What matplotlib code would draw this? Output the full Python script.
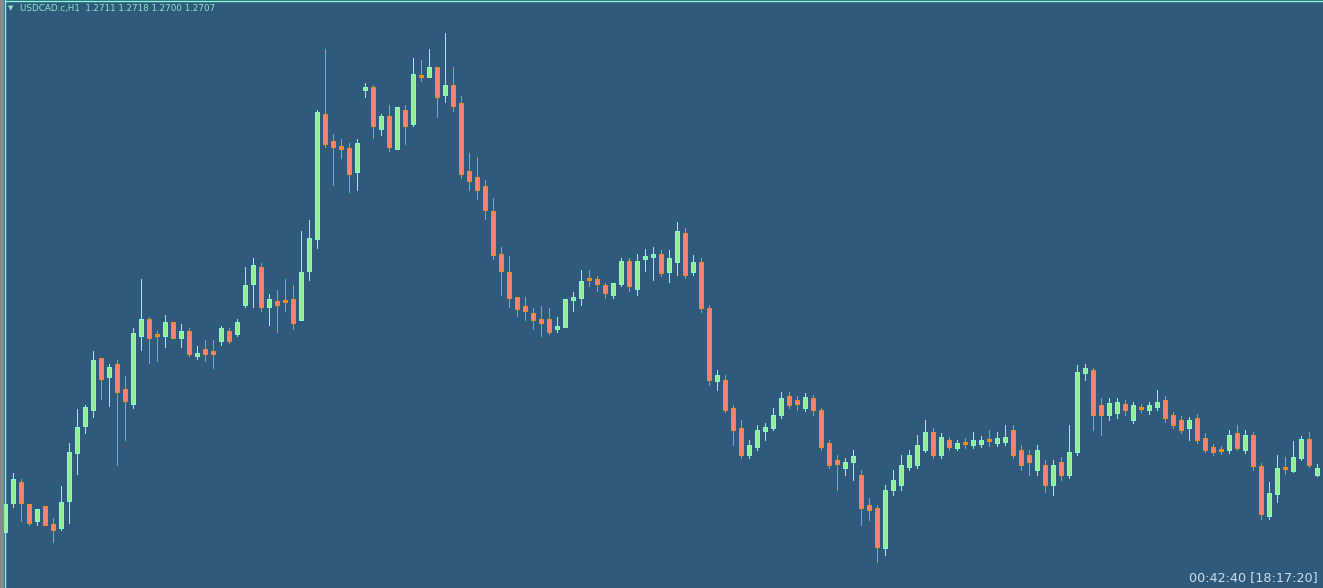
import matplotlib
matplotlib.use("Agg")
import matplotlib.pyplot as plt
from matplotlib.patches import Rectangle
from matplotlib.lines import Line2D

# USDCAD.c H1 - 165 candles (oldest first)
opens = [1.2648, 1.2677, 1.2698, 1.2676, 1.2659, 1.2674, 1.2656, 1.2652, 1.2679, 1.2727,
         1.2754, 1.2770, 1.2822, 1.2803, 1.2816, 1.2791, 1.2776, 1.2844, 1.2861, 1.2845,
         1.2844, 1.2858, 1.2842, 1.2849, 1.2824, 1.2831, 1.2829, 1.2839, 1.2849, 1.2846,
         1.2875, 1.2896, 1.2913, 1.2873, 1.2879, 1.2879, 1.2881, 1.2860, 1.2909, 1.2941,
         1.3066, 1.3039, 1.3034, 1.3032, 1.3008, 1.3090, 1.3093, 1.3051, 1.3064, 1.3031,
         1.3070, 1.3056, 1.3104, 1.3103, 1.3113, 1.3085, 1.3095, 1.3077, 1.3009, 1.3003,
         1.2994, 1.2969, 1.2926, 1.2908, 1.2883, 1.2874, 1.2867, 1.2861, 1.2861, 1.2851,
         1.2853, 1.2880, 1.2882, 1.2901, 1.2901, 1.2895, 1.2885, 1.2896, 1.2919, 1.2891,
         1.2921, 1.2923, 1.2926, 1.2908, 1.2918, 1.2947, 1.2908, 1.2918, 1.2872, 1.2799,
         1.2800, 1.2772, 1.2752, 1.2725, 1.2733, 1.2749, 1.2752, 1.2765, 1.2784, 1.2780,
         1.2772, 1.2782, 1.2770, 1.2737, 1.2720, 1.2712, 1.2718, 1.2705, 1.2675, 1.2672,
         1.2632, 1.2690, 1.2695, 1.2713, 1.2715, 1.2730, 1.2748, 1.2725, 1.2740, 1.2732,
         1.2737, 1.2735, 1.2736, 1.2740, 1.2737, 1.2738, 1.2750, 1.2730, 1.2725, 1.2710,
         1.2715, 1.2695, 1.2718, 1.2705, 1.2728, 1.2807, 1.2810, 1.2775, 1.2765, 1.2767,
         1.2776, 1.2760, 1.2772, 1.2770, 1.2773, 1.2780, 1.2765, 1.2760, 1.2752, 1.2762,
         1.2742, 1.2733, 1.2730, 1.2730, 1.2747, 1.2730, 1.2745, 1.2714, 1.2664, 1.2686,
         1.2712, 1.2709, 1.2722, 1.2741, 1.2705]
highs = [1.2683, 1.2707, 1.2701, 1.2676, 1.2671, 1.2674, 1.2662, 1.2694, 1.2737, 1.2771,
         1.2775, 1.2829, 1.2822, 1.2816, 1.2820, 1.2804, 1.2852, 1.2901, 1.2863, 1.2849,
         1.2865, 1.2858, 1.2856, 1.2852, 1.2834, 1.2840, 1.2840, 1.2854, 1.2852, 1.2861,
         1.2913, 1.2922, 1.2917, 1.2886, 1.2890, 1.2901, 1.2895, 1.2949, 1.2960, 1.3070,
         1.3131, 1.3046, 1.3041, 1.3037, 1.3041, 1.3097, 1.3095, 1.3066, 1.3075, 1.3073,
         1.3075, 1.3122, 1.3120, 1.3131, 1.3113, 1.3147, 1.3113, 1.3084, 1.3027, 1.3023,
         1.3000, 1.2982, 1.2933, 1.2924, 1.2883, 1.2883, 1.2872, 1.2874, 1.2872, 1.2863,
         1.2881, 1.2888, 1.2910, 1.2910, 1.2904, 1.2897, 1.2897, 1.2922, 1.2922, 1.2926,
         1.2931, 1.2933, 1.2930, 1.2930, 1.2958, 1.2952, 1.2925, 1.2922, 1.2875, 1.2810,
         1.2805, 1.2775, 1.2760, 1.2740, 1.2755, 1.2757, 1.2772, 1.2788, 1.2788, 1.2784,
         1.2787, 1.2785, 1.2772, 1.2740, 1.2725, 1.2722, 1.2730, 1.2710, 1.2682, 1.2675,
         1.2695, 1.2710, 1.2725, 1.2730, 1.2745, 1.2760, 1.2752, 1.2747, 1.2743, 1.2740,
         1.2742, 1.2748, 1.2744, 1.2750, 1.2748, 1.2755, 1.2755, 1.2735, 1.2730, 1.2735,
         1.2720, 1.2720, 1.2723, 1.2755, 1.2815, 1.2816, 1.2812, 1.2782, 1.2782, 1.2782,
         1.2780, 1.2778, 1.2776, 1.2778, 1.2790, 1.2784, 1.2768, 1.2764, 1.2763, 1.2766,
         1.2747, 1.2736, 1.2734, 1.2750, 1.2755, 1.2750, 1.2748, 1.2717, 1.2698, 1.2725,
         1.2723, 1.2739, 1.2744, 1.2748, 1.2716]
lows = [1.2646, 1.2673, 1.2659, 1.2655, 1.2655, 1.2655, 1.2638, 1.2650, 1.2657, 1.2706,
        1.2747, 1.2763, 1.2781, 1.2774, 1.2715, 1.2740, 1.2772, 1.2830, 1.2817, 1.2819,
        1.2833, 1.2842, 1.2833, 1.2824, 1.2821, 1.2819, 1.2812, 1.2835, 1.2837, 1.2844,
        1.2873, 1.2873, 1.2869, 1.2855, 1.2848, 1.2869, 1.2851, 1.2860, 1.2900, 1.2932,
        1.3033, 1.2995, 1.3022, 1.2988, 1.2990, 1.3083, 1.3042, 1.3045, 1.3029, 1.3031,
        1.3036, 1.3054, 1.3099, 1.3103, 1.3063, 1.3078, 1.3069, 1.3002, 1.2990, 1.2981,
        1.2961, 1.2921, 1.2885, 1.2873, 1.2864, 1.2860, 1.2851, 1.2844, 1.2846, 1.2848,
        1.2853, 1.2869, 1.2875, 1.2894, 1.2889, 1.2882, 1.2882, 1.2894, 1.2889, 1.2885,
        1.2909, 1.2900, 1.2904, 1.2898, 1.2905, 1.2902, 1.2905, 1.2868, 1.2795, 1.2790,
        1.2768, 1.2735, 1.2722, 1.2722, 1.2730, 1.2740, 1.2750, 1.2762, 1.2772, 1.2770,
        1.2769, 1.2765, 1.2730, 1.2712, 1.2690, 1.2705, 1.2700, 1.2655, 1.2660, 1.2618,
        1.2625, 1.2685, 1.2690, 1.2710, 1.2712, 1.2728, 1.2722, 1.2722, 1.2730, 1.2730,
        1.2732, 1.2732, 1.2733, 1.2734, 1.2734, 1.2735, 1.2722, 1.2710, 1.2705, 1.2705,
        1.2688, 1.2685, 1.2700, 1.2702, 1.2725, 1.2800, 1.2750, 1.2745, 1.2760, 1.2762,
        1.2765, 1.2757, 1.2768, 1.2766, 1.2770, 1.2758, 1.2752, 1.2747, 1.2740, 1.2737,
        1.2728, 1.2725, 1.2726, 1.2727, 1.2730, 1.2727, 1.2710, 1.2661, 1.2661, 1.2678,
        1.2706, 1.2708, 1.2720, 1.2713, 1.2704]
closes = [1.2676, 1.2701, 1.2677, 1.2657, 1.2671, 1.2655, 1.2650, 1.2678, 1.2728, 1.2753,
          1.2773, 1.2820, 1.2801, 1.2813, 1.2788, 1.2779, 1.2847, 1.2861, 1.2842, 1.2845,
          1.2858, 1.2842, 1.2849, 1.2826, 1.2827, 1.2826, 1.2826, 1.2852, 1.2839, 1.2858,
          1.2895, 1.2915, 1.2873, 1.2881, 1.2875, 1.2879, 1.2857, 1.2908, 1.2942, 1.3068,
          1.3036, 1.3033, 1.3031, 1.3006, 1.3037, 1.3093, 1.3054, 1.3064, 1.3033, 1.3073,
          1.3054, 1.3106, 1.3104, 1.3113, 1.3083, 1.3095, 1.3074, 1.3006, 1.2999, 1.2990,
          1.2970, 1.2925, 1.2909, 1.2882, 1.2871, 1.2869, 1.2860, 1.2857, 1.2848, 1.2854,
          1.2881, 1.2883, 1.2899, 1.2901, 1.2896, 1.2887, 1.2897, 1.2919, 1.2894, 1.2919,
          1.2924, 1.2926, 1.2907, 1.2922, 1.2949, 1.2905, 1.2918, 1.2872, 1.2800, 1.2805,
          1.2770, 1.2750, 1.2725, 1.2735, 1.2750, 1.2753, 1.2765, 1.2782, 1.2775, 1.2776,
          1.2783, 1.2770, 1.2733, 1.2715, 1.2716, 1.2718, 1.2724, 1.2672, 1.2670, 1.2633,
          1.2690, 1.2700, 1.2715, 1.2725, 1.2735, 1.2748, 1.2725, 1.2743, 1.2733, 1.2737,
          1.2737, 1.2740, 1.2740, 1.2740, 1.2742, 1.2743, 1.2725, 1.2715, 1.2718, 1.2730,
          1.2695, 1.2715, 1.2705, 1.2728, 1.2808, 1.2812, 1.2765, 1.2765, 1.2777, 1.2778,
          1.2770, 1.2775, 1.2772, 1.2775, 1.2778, 1.2762, 1.2755, 1.2750, 1.2760, 1.2740,
          1.2730, 1.2728, 1.2730, 1.2745, 1.2732, 1.2745, 1.2714, 1.2666, 1.2687, 1.2712,
          1.2712, 1.2723, 1.2741, 1.2715, 1.2712]

header = "USDCAD.c,H1  1.2711 1.2718 1.2700 1.2707"
timer = "00:42:40 [18:17:20]"

bg = "#2F5A7B"
bull_body = "#90EE90"
bull_line = "#7FFFD4"
bear_body = "#FA8072"
bear_line = "#FF8C00"

fig = plt.figure(figsize=(13.23, 5.88), dpi=100, facecolor=bg)
ax = fig.add_axes([0, 0, 1, 1], facecolor=bg)
n = len(opens)
w = 0.55
px = 0.72  # one pixel at 100 dpi

for i in range(n):
    o, h, l, c = opens[i], highs[i], lows[i], closes[i]
    if c > o:
        ax.vlines(i, l, h, color=bull_line, lw=px, zorder=2, antialiased=False)
        ax.add_patch(Rectangle((i - w / 2, o), w, c - o, facecolor=bull_body,
                               edgecolor=bull_line, lw=px, zorder=3))
    elif c < o:
        ax.vlines(i, l, h, color=bear_line, lw=px, zorder=2, antialiased=False)
        ax.add_patch(Rectangle((i - w / 2, c), w, o - c, facecolor=bear_body,
                               edgecolor=bear_line, lw=px, zorder=3))
    else:
        ax.vlines(i, l, h, color=bear_line, lw=px, zorder=2, antialiased=False)
        ax.hlines(o, i - w / 2, i + w / 2, color=bear_line, lw=1.0, zorder=3,
                  antialiased=False)

ax.set_xlim(-0.625, 164.75)
ax.set_ylim(1.2592, 1.3180)
ax.set_xticks([])
ax.set_yticks([])
for s in ax.spines.values():
    s.set_visible(False)

# window frame: grey strip and light borders
fig.patches.append(Rectangle((0, 0), 3.5 / 1323, 1, transform=fig.transFigure,
                             facecolor="#8A8A8A", edgecolor="none", zorder=5))
fig.lines.append(Line2D([4.5 / 1323, 4.5 / 1323], [0, 1], transform=fig.transFigure,
                        color="#7FFFD4", lw=1.0, zorder=6))
fig.lines.append(Line2D([4.5 / 1323, 1], [1 - 0.5 / 588, 1 - 0.5 / 588],
                        transform=fig.transFigure, color="#7FFFD4", lw=1.0, zorder=6))

fig.text(8 / 1323, 1 - 8 / 588, "\u25bc", color="#8CE6C8", fontsize=5,
         va="center", ha="left")
fig.text(20 / 1323, 1 - 8 / 588, header, color="#8CE6C8", fontsize=6.3,
         va="center", ha="left")
fig.text(1318 / 1323, 1 - 578 / 588, timer, color="#D0DCE8", fontsize=9.2,
         va="center", ha="right")

fig.savefig("out.png", dpi=100, facecolor=bg)
